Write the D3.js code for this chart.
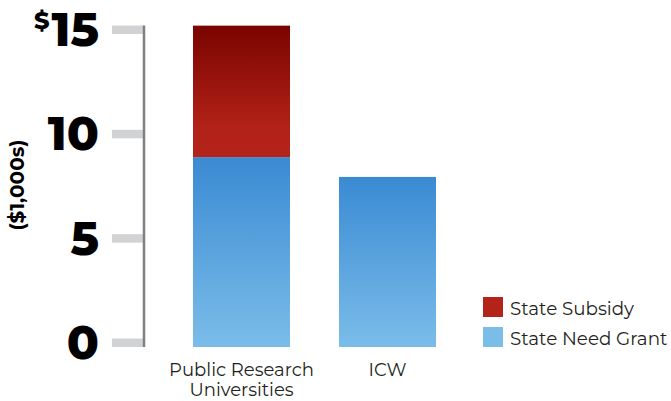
<!DOCTYPE html>
<html><head><meta charset="utf-8">
<script src="https://cdn.jsdelivr.net/npm/d3@7"></script>
<style>body{margin:0;background:#fff}svg{display:block}</style>
</head><body>
<svg id="c" width="671" height="401"></svg>
<script>
const categories = ["Public Research Universities", "ICW"];
const categoryLines = [["Public Research", "Universities"], ["ICW"]];
const stateNeedGrant = [9.1, 8.15];
const stateSubsidy = [6.3, 0];
const seriesNames = ["State Subsidy", "State Need Grant"];
const tickValues = [0, 5, 10, 15];
const tickLabels = ["0", "5", "10", "15"];

const svg = d3.select("#c");
const font = "Montserrat, 'Open Sans', 'DejaVu Sans', sans-serif";

const y = d3.scaleLinear().domain([0, 15]).range([347, 34]);
const x = d3.scaleBand().domain(categories).range([193, 436]).paddingInner(49/146).paddingOuter(0);

const defs = svg.append("defs");
const gR = defs.append("linearGradient").attr("id","gr").attr("x1",0).attr("y1",0).attr("x2",0).attr("y2",1);
gR.append("stop").attr("offset","0%").attr("stop-color","#7a0400");
gR.append("stop").attr("offset","78%").attr("stop-color","#b22218");
gR.append("stop").attr("offset","100%").attr("stop-color","#b3231a");
stateNeedGrant.forEach((v, i) => {
  const g = defs.append("linearGradient").attr("id","gb"+i).attr("gradientUnits","userSpaceOnUse")
    .attr("x1",0).attr("y1",y(v)).attr("x2",0).attr("y2",y(0));
  g.append("stop").attr("offset","0%").attr("stop-color","#3a8ad3");
  g.append("stop").attr("offset","100%").attr("stop-color","#7bbde9");
});

// ticks (gray bars)
const axisX = 144;
svg.selectAll(".tk").data(tickValues).enter().append("rect")
  .attr("x", 112).attr("width", axisX - 112)
  .attr("y", d => y(d) - 8.5).attr("height", 8.5)
  .attr("fill", "#d1d2d4");
svg.append("line").attr("x1", axisX).attr("x2", axisX)
  .attr("y1", y(15) - 8.5).attr("y2", y(0))
  .attr("stroke", "#808083").attr("stroke-width", 2.5);

// tick labels
svg.selectAll(".tl").data(tickValues).enter().append("text")
  .attr("x", 99).attr("y", d => y(d) + 12)
  .attr("text-anchor", "end")
  .attr("font-family", font).attr("font-weight", 800).attr("font-size", 47)
  .attr("fill", "#000")
  .text((d,i) => tickLabels[i]);
// dollar superscript
svg.append("text").attr("x", 34).attr("y", 29)
  .attr("font-family", font).attr("font-weight", 800).attr("font-size", 24)
  .attr("fill", "#000").text("$");

// y axis title
svg.append("text")
  .attr("transform", "translate(24,185) rotate(-90)")
  .attr("text-anchor", "middle")
  .attr("font-family", font).attr("font-weight", 700).attr("font-size", 20)
  .attr("fill", "#000").text("($1,000s)");

// bars
svg.selectAll(".bn").data(categories).enter().append("rect")
  .attr("x", d => x(d)).attr("width", x.bandwidth())
  .attr("y", (d,i) => y(stateNeedGrant[i]))
  .attr("height", (d,i) => y(0) - y(stateNeedGrant[i]))
  .attr("fill", (d,i) => "url(#gb" + i + ")");
svg.selectAll(".bs").data(categories.filter((d,i) => stateSubsidy[i] > 0)).enter().append("rect")
  .attr("x", d => x(d)).attr("width", x.bandwidth())
  .attr("y", d => { const i = categories.indexOf(d); return y(stateNeedGrant[i] + stateSubsidy[i]); })
  .attr("height", d => { const i = categories.indexOf(d); return y(stateNeedGrant[i]) - y(stateNeedGrant[i] + stateSubsidy[i]); })
  .attr("fill", "url(#gr)");

// category labels (one text per line)
categories.forEach((c, i) => {
  categoryLines[i].forEach((ln, j) => {
    svg.append("text").attr("text-anchor", "middle")
      .attr("font-family", font).attr("font-size", 18).attr("fill", "#231f20")
      .attr("x", x(c) + x.bandwidth()/2).attr("y", 375.5 + j*20.5).text(ln);
  });
});

// legend
const legColors = ["#b3231a", "#7bbde9"];
seriesNames.forEach((s, i) => {
  svg.append("rect").attr("x", 483).attr("y", 297 + i*30).attr("width", 20).attr("height", 20).attr("fill", legColors[i]);
  svg.append("text").attr("x", 510).attr("y", 315 + i*30)
    .attr("font-family", font).attr("font-size", 18.3).attr("fill", "#231f20").text(s);
});
</script>
</body></html>
